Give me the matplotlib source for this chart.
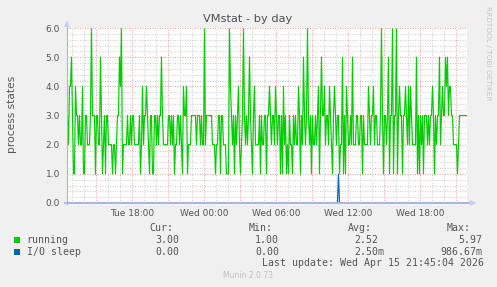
import matplotlib
matplotlib.use("Agg")
import matplotlib.pyplot as plt
import numpy as np

# ---- data (5-minute samples, Tue 12:35 -> Wed 21:50) ----
start_hour = 12 + 35 / 60.0      # hours since Tue 00:00
step_minutes = 5

running = [
    3, 2, 4, 4, 5, 3, 1, 1, 4, 3,
    3, 2, 3, 2, 2, 4, 1, 1, 3, 3,
    2, 2, 2, 3, 5.97, 3, 3, 3, 1, 3,
    3, 2, 2, 5, 3, 1, 2, 3, 1, 3,
    3, 2, 2, 2, 2, 1, 2, 2, 1, 2,
    3, 3, 5, 4, 5.97, 1, 2, 2, 2, 2,
    3, 2, 2, 3, 2, 3, 3,
    2, 2, 2, 2, 2, 3, 1, 2, 4, 2,
    3, 3, 4, 3, 2, 1, 3, 3, 1, 1,
    3, 3, 2, 3, 2, 3, 3, 5, 3, 2,
    2, 2, 2, 2, 3, 3, 2, 3, 2, 3,
    1, 2, 2, 3, 3, 2, 3, 2, 1, 4,
    3, 3, 4, 1, 2, 2, 2, 3, 3, 3,
    3, 3, 2, 3, 3, 3, 2, 3,
    2, 2, 5.97, 2, 3, 3, 3, 3, 3, 3,
    2, 2, 2, 1, 2, 2, 3, 3, 1, 3,
    3, 2, 2, 2, 1, 1, 1, 5.97, 4, 3,
    2, 3, 1, 3, 2, 3, 4, 2, 1, 2,
    3, 5.97, 3, 2, 3, 2, 3, 5, 3, 2,
    1, 3, 4, 2, 2, 2, 2, 3, 1, 3,
    2, 2, 3, 3, 1, 3, 3, 4,
    3, 2, 3, 3, 2, 4, 3, 2, 3, 3,
    1, 3, 1, 4, 2, 3, 1, 2, 1, 3,
    2, 2, 1, 3, 2, 3, 2, 2, 4, 3,
    1, 3, 2, 5, 3, 2, 3, 5.97, 3, 2,
    3, 1, 3, 2, 2, 3, 2, 3, 4, 1,
    3, 5, 3, 3, 4, 2, 3, 3, 2, 4,
    3, 2, 1, 3, 4, 3, 2, 3,
    3, 1, 2, 2, 5, 1, 3, 1, 4, 3,
    2, 2, 3, 2, 5, 2, 2, 2, 3, 3,
    2, 2, 3, 3, 1, 3, 2, 2, 2, 2,
    4, 3, 2, 3, 3, 4, 2, 3, 3, 2,
    2, 2, 3, 5.97, 3, 1, 3, 3, 2, 3,
    5, 1, 3, 3, 5.97, 1, 3, 3, 5.97, 1,
    3, 4, 3, 3, 1, 3, 3, 4,
    3, 2, 4, 2, 4, 3, 2, 2, 2, 2,
    5, 1, 3, 1, 3, 2, 3, 1, 3, 3,
    3, 2, 3, 2, 3, 3, 4, 3, 1, 3,
    2, 3, 3, 5, 2, 3, 4, 3, 3, 5,
    4, 5, 3, 4, 4, 3, 3, 2, 2, 2,
    2, 1, 2, 3, 3, 3, 3, 3, 3, 3,
    3,
]
io_sleep = [0.0] * 271 + [0.98667] + [0.0] * 128

tick_hours = [18, 24, 30, 36, 42]
tick_labels = ["Tue 18:00", "Wed 00:00", "Wed 06:00", "Wed 12:00", "Wed 18:00"]

legend_names = ["running", "I/O sleep"]
legend_colors = ["#00CC00", "#0066B3"]
cur_vals = ["3.00", "0.00"]
min_vals = ["1.00", "0.00"]
avg_vals = ["2.52", "2.50m"]
max_vals = ["5.97", "986.67m"]

# ---- figure ----
W, H = 497, 287
fig = plt.figure(figsize=(W / 100, H / 100), dpi=100, facecolor="#F0F0F0")
px = lambda x: x / W
py = lambda y: 1 - y / H

x0, x1, ytop, ybot = 67, 467, 28, 203
ax = fig.add_axes([px(x0), py(ybot), (x1 - x0) / W, (ybot - ytop) / H])
ax.set_facecolor("white")

t_run = start_hour + np.arange(len(running)) * step_minutes / 60.0
t_io = start_hour + np.arange(len(io_sleep)) * step_minutes / 60.0
t_end = start_hour + 400 * step_minutes / 60.0

ax.set_xlim(start_hour - 0.04, t_end - 0.04)
ax.set_ylim(0, 6)

# grids
for h in np.arange(13, 46, 1):
    if h % 3 != 0:
        ax.axvline(h, color="#cfcfcf", lw=0.72, dashes=(1, 1.5), zorder=1)
for yv in np.arange(0.2, 6.0, 0.2):
    if abs(yv - round(yv)) > 1e-6:
        ax.axhline(yv, color="#cfcfcf", lw=0.72, dashes=(1, 1.5), zorder=1)
for h in range(15, 46, 3):
    ax.axvline(h, color="#f3a0a0", lw=0.72, dashes=(1, 1.5), zorder=2)
for yv in range(1, 7):
    ax.axhline(yv, color="#f3a0a0", lw=0.72, dashes=(1, 1.5), zorder=2)

ax.plot(t_run, running, color="#00CC00", lw=0.85, zorder=4)
ax.plot(t_io, io_sleep, color="#0066B3", lw=0.85, zorder=5)

for s in ax.spines.values():
    s.set_visible(False)

ax.set_yticks(range(0, 7))
ax.set_yticklabels([f"{v:.1f}" for v in range(0, 7)])
ax.set_xticks(tick_hours)
ax.set_xticklabels(tick_labels)
ax.tick_params(axis="both", length=0, labelsize=6.5, labelcolor="#555555")
ax.tick_params(axis="y", pad=5)
ax.tick_params(axis="x", pad=4)

# axis lines with arrows (drawn above the plot area)
axis_col = "#aab4e0"
fig.add_artist(plt.Line2D([px(x0), px(x0)], [py(ybot + 1), py(24)], color=axis_col, lw=0.8, zorder=10))
fig.add_artist(plt.Line2D([px(x0 - 2), px(470)], [py(ybot), py(ybot)], color=axis_col, lw=1.3, zorder=10))
fig.add_artist(plt.Polygon([[px(x0 - 3), py(27)], [px(x0 + 3), py(27)], [px(x0), py(20)]],
                           closed=True, color="#c8d0f0", lw=0, zorder=10))
fig.add_artist(plt.Polygon([[px(470), py(ybot - 3)], [px(470), py(ybot + 3)], [px(477), py(ybot)]],
                           closed=True, color="#c8d0f0", lw=0, zorder=10))

# title and labels
fig.text(px(248), py(19), "VMstat - by day", ha="center", va="center",
         fontsize=8.2, color="#505050")
fig.text(px(12), py(114), "process states", rotation=90, ha="center", va="center",
         fontsize=7.7, color="#555555")
fig.text(px(488), py(6), "RRDTOOL / TOBI OETIKER", rotation=270, ha="center", va="top",
         fontsize=5.3, color="#c4c4c4")

# legend
mono = dict(family="DejaVu Sans Mono", fontsize=7.1, color="#555555", va="center")
fig.text(px(149), py(228), "Cur:", **mono)
fig.text(px(249), py(228), "Min:", **mono)
fig.text(px(348), py(228), "Avg:", **mono)
fig.text(px(447), py(228), "Max:", **mono)
row_y = [240, 251.7]
for i in range(2):
    yy = row_y[i]
    fig.add_artist(plt.Rectangle((px(14), py(yy + 3)), 6 / W, 6 / H,
                                 facecolor=legend_colors[i], edgecolor="none"))
    fig.text(px(26.7), py(yy), legend_names[i], **mono)
    fig.text(px(155), py(yy), cur_vals[i], **mono)
    fig.text(px(255), py(yy), min_vals[i], **mono)
    fig.text(px(354), py(yy), avg_vals[i], **mono)
    fig.text(px(482.7), py(yy), max_vals[i], ha="right", **mono)
fig.text(px(261.7), py(263.3), "Last update: Wed Apr 15 21:45:04 2026", **mono)
fig.text(px(248), py(276), "Munin 2.0.73", ha="center", va="center",
         fontsize=5.5, color="#c0c0c0")

fig.savefig("out.png", dpi=100, facecolor=fig.get_facecolor())
